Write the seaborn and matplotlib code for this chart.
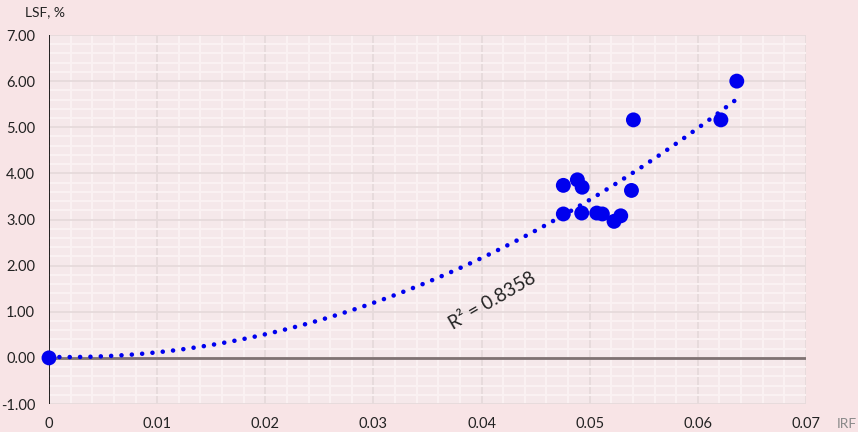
import numpy as np
import pandas as pd
import matplotlib
matplotlib.use("Agg")
import matplotlib.pyplot as plt
import seaborn as sns
from matplotlib.ticker import MultipleLocator

irf = [0.0, 0.04756, 0.04886, 0.0493, 0.04756, 0.04926, 0.05065, 0.05117,
       0.05225, 0.05287, 0.05386, 0.05404, 0.06213, 0.0636]
lsf = [0.0, 3.74, 3.86, 3.70, 3.12, 3.14, 3.14, 3.12,
       2.96, 3.08, 3.63, 5.16, 5.16, 6.00]
x_ticks = [0, 0.01, 0.02, 0.03, 0.04, 0.05, 0.06, 0.07]
x_tick_labels = ["0", "0.01", "0.02", "0.03", "0.04", "0.05", "0.06", "0.07"]
y_ticks = [-1, 0, 1, 2, 3, 4, 5, 6, 7]
y_tick_labels = ["-1.00", "0.00", "1.00", "2.00", "3.00", "4.00", "5.00", "6.00", "7.00"]
r2_label = "R² = 0.8358"
x_label = "IRF"
y_label = "LSF, %"

df = pd.DataFrame({"IRF": irf, "LSF": lsf})

sns.set_theme(style="white")
plt.rcParams['font.family'] = ['Lato', 'DejaVu Sans']

fig = plt.figure(figsize=(8.58, 4.32), dpi=100)
fig.patch.set_facecolor("#F8E4E6")
ax = fig.add_axes([49/858, 1-404/432, (806-49)/858, (404-35)/432])
ax.set_facecolor("#F5E8EA")

ax.set_xlim(0, 0.07)
ax.set_ylim(-1, 7)

# grid
ax.xaxis.set_minor_locator(MultipleLocator(0.002))
ax.yaxis.set_minor_locator(MultipleLocator(0.2))
ax.grid(which="minor", color="#FAF1F2", linewidth=1.5, zorder=0)
ax.grid(which="major", color="#E6DADB", linewidth=1.3, zorder=0)
ax.tick_params(which="both", length=0)

# trendline (polynomial order 2)
coef = np.polyfit(df["IRF"], df["LSF"], 2)
xs = np.linspace(0, max(irf), 200)
tdf = pd.DataFrame({"IRF": xs, "LSF": np.polyval(coef, xs)})

ax.axhline(0, color="#7F7272", linewidth=2, zorder=1)
ax.axvline(0, color="black", linewidth=1.2, zorder=1)

sns.lineplot(data=tdf, x="IRF", y="LSF", ax=ax, color="#0000EE", linewidth=3.3,
             linestyle=(0, (0.01, 2.25)), dash_capstyle="round", zorder=3)
sns.scatterplot(data=df, x="IRF", y="LSF", ax=ax, color="#0000EE", s=115,
                edgecolor="none", zorder=4, clip_on=False)

for s in ax.spines.values():
    s.set_visible(False)

ax.set_xticks(x_ticks)
ax.set_xticklabels(x_tick_labels)
ax.set_yticks(y_ticks)
ax.set_yticklabels(y_tick_labels)
ax.tick_params(axis="x", pad=9, labelsize=10.5, colors="#222222")
ax.tick_params(axis="y", pad=10, labelsize=10.5, colors="#222222")
ax.set_xlabel("")
ax.set_ylabel("")

fig.text(25/858, 1-12/432, y_label, fontsize=10, color="#222222", va="center", ha="left")
fig.text(837/858, 1-424/432, x_label, fontsize=10, color="#8A8A8A", va="center", ha="left")

ax.text(0.0410, 1.24, r2_label, rotation=30, fontsize=13.5, color="#222222",
        ha="center", va="center", zorder=5)

fig.savefig("out.png", dpi=100, facecolor=fig.get_facecolor())
